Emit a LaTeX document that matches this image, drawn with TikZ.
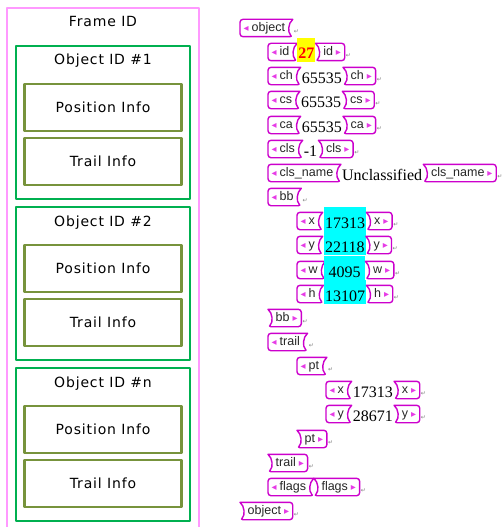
\documentclass[tikz,border=0pt]{standalone}
\usepackage{fontspec}
\setmainfont{Liberation Serif}
\newfontfamily\boxfont[LetterSpace=6]{DejaVu Sans}
\newfontfamily\tagfont{Liberation Sans}
\newfontfamily\symfont{DejaVu Sans}
\usepackage{xcolor}
\usetikzlibrary{positioning}
\definecolor{pinkline}{RGB}{255,153,255}
\definecolor{objgreen}{RGB}{0,176,80}
\definecolor{infoolive}{RGB}{119,147,60}
\definecolor{tagpink}{RGB}{204,0,204}
\definecolor{trifill}{RGB}{230,60,230}
\definecolor{hlyellow}{RGB}{255,255,0}
\definecolor{hlcyan}{RGB}{0,255,255}

% open tag: name, west point, label
\newcommand{\opentag}[3]{%
  \node[tagtext,anchor=west] (#1) at (#2) {{\symfont\fontsize{10}{10}\selectfont\color{trifill}◂}\hspace{3pt}#3};
  \draw[tagline] ([xshift=4pt]#1.north east) [rounded corners=3pt] -- (#1.north west) -- (#1.south west) -- ([xshift=4pt]#1.south east)
    [sharp corners] .. controls ([xshift=-1pt,yshift=4pt]#1.south east) and ([xshift=-1pt,yshift=-4pt]#1.north east) .. ([xshift=4pt]#1.north east);
}
% close tag: name, left point, label
\newcommand{\closetag}[3]{%
  \node[tagtext,anchor=west,xshift=4pt] (#1) at (#2) {#3\hspace{3pt}{\symfont\fontsize{10}{10}\selectfont\color{trifill}▸}};
  \draw[tagline] ([xshift=-4pt]#1.north west) [rounded corners=3pt] -- (#1.north east) -- (#1.south east) -- ([xshift=-4pt]#1.south west)
    [sharp corners] .. controls ([xshift=1pt,yshift=4pt]#1.south west) and ([xshift=1pt,yshift=-4pt]#1.north west) .. ([xshift=-4pt]#1.north west);
}

\begin{document}
\begin{tikzpicture}[x=1pt,y=-1pt,line cap=round,line join=round,
    framebox/.style={draw=pinkline,line width=2pt,minimum width=192pt,minimum height=540pt,anchor=north west,outer sep=0pt},
    objbox/.style={draw=objgreen,line width=2.5pt,minimum width=174pt,minimum height=153pt,outer sep=0pt},
    infobox/.style={draw=infoolive,line width=2.5pt,minimum width=157pt,minimum height=47pt,outer sep=0pt,font=\boxfont\fontsize{14}{14}\selectfont,text height=10pt,text depth=0pt},
    boxlabel/.style={font=\boxfont\fontsize{14}{14}\selectfont,inner sep=0pt,text height=10pt,text depth=0pt},
    tagtext/.style={font=\tagfont\fontsize{12.5}{12.5}\selectfont,text=black!85,inner xsep=3.5pt,inner ysep=0pt,minimum height=17pt,text height=9.5pt,text depth=2.5pt},
    tagline/.style={draw=tagpink,line width=1.4pt},
    valtext/.style={font=\fontsize{16}{16}\selectfont,inner xsep=1pt,inner ysep=3pt,text height=18pt,text depth=0pt,minimum height=24.5pt},
    retmark/.style={font=\symfont\fontsize{6}{6}\selectfont,text=gray,inner sep=0pt}]
  \tikzstyle{cellcyan}=[valtext,fill=hlcyan,minimum width=41pt,anchor=west]
  \useasboundingbox (0,0) rectangle (503,527);

  % left: frame layout
  \node[framebox] (frame) at (7,8) {};
  \node[boxlabel] (frameid) at ([yshift=-14pt]frame.north) {Frame ID};

  \node[objbox,below=38pt of frame.north] (obj1) {};
  \node[boxlabel] (obj1id) at ([yshift=-14pt]obj1.north) {Object ID \#1};
  \node[infobox,below=38pt of obj1.north] (pos1) {Position Info};
  \node[infobox,below=7pt of pos1] (trail1) {Trail Info};

  \node[objbox,below=8pt of obj1] (obj2) {};
  \node[boxlabel] (obj2id) at ([yshift=-14pt]obj2.north) {Object ID \#2};
  \node[infobox,below=38pt of obj2.north] (pos2) {Position Info};
  \node[infobox,below=7pt of pos2] (trail2) {Trail Info};

  \node[objbox,below=8pt of obj2] (objn) {};
  \node[boxlabel] (objnid) at ([yshift=-14pt]objn.north) {Object ID \#n};
  \node[infobox,below=38pt of objn.north] (posn) {Position Info};
  \node[infobox,below=7pt of posn] (trailn) {Trail Info};

  % right: xml tags
  \opentag{objO}{240,28}{object}
  \node[retmark,right=5pt of objO,yshift=-4pt] (ret0) {↵};

  \opentag{idO}{268,52}{id}
  \node[valtext,fill=hlyellow,text=red,font=\fontsize{16}{16}\selectfont\bfseries,right=4pt of idO,yshift=2pt] (idV) {27};
  \closetag{idC}{idV.east |- idO.east}{id}
  \node[retmark,right=1pt of idC,yshift=-4pt] (ret1) {↵};

  \opentag{chO}{268,76}{ch}
  \node[valtext,right=4pt of chO,yshift=2pt] (chV) {65535};
  \closetag{chC}{chV.east |- chO.east}{ch}
  \node[retmark,right=1pt of chC,yshift=-4pt] (ret2) {↵};

  \opentag{csO}{268,100}{cs}
  \node[valtext,right=4pt of csO,yshift=2pt] (csV) {65535};
  \closetag{csC}{csV.east |- csO.east}{cs}
  \node[retmark,right=1pt of csC,yshift=-4pt] (ret3) {↵};

  \opentag{caO}{268,125}{ca}
  \node[valtext,right=4pt of caO,yshift=2pt] (caV) {65535};
  \closetag{caC}{caV.east |- caO.east}{ca}
  \node[retmark,right=1pt of caC,yshift=-4pt] (ret4) {↵};

  \opentag{clsO}{268,149}{cls}
  \node[valtext,right=4pt of clsO,yshift=2pt] (clsV) {-1};
  \closetag{clsC}{clsV.east |- clsO.east}{cls}
  \node[retmark,right=1pt of clsC,yshift=-4pt] (ret5) {↵};

  \opentag{nameO}{268,173}{cls\_name}
  \node[valtext,right=4pt of nameO,yshift=2pt] (nameV) {Unclassified};
  \closetag{nameC}{nameV.east |- nameO.east}{cls\_name}
  \node[retmark,right=1pt of nameC,yshift=-4pt] (ret6) {↵};

  \opentag{bbO}{268,197}{bb}
  \node[retmark,right=5pt of bbO,yshift=-4pt] (ret7) {↵};

  \opentag{bxO}{297,221}{x}
  \node[cellcyan,yshift=2pt] (bxV) at (324,221) {17313};
  \closetag{bxC}{bxV.east |- bxO.east}{x}
  \node[retmark,right=1pt of bxC,yshift=-4pt] (ret8) {↵};

  \opentag{byO}{297,245}{y}
  \node[cellcyan,yshift=2pt] (byV) at (324,245) {22118};
  \closetag{byC}{byV.east |- byO.east}{y}
  \node[retmark,right=1pt of byC,yshift=-4pt] (ret9) {↵};

  \opentag{bwO}{297,270}{w}
  \node[cellcyan,yshift=2pt] (bwV) at (324,270) {4095};
  \closetag{bwC}{bwV.east |- bwO.east}{w}
  \node[retmark,right=1pt of bwC,yshift=-4pt] (ret10) {↵};

  \opentag{bhO}{297,294}{h}
  \node[cellcyan,yshift=2pt] (bhV) at (324,294) {13107};
  \closetag{bhC}{bhV.east |- bhO.east}{h}
  \node[retmark,right=1pt of bhC,yshift=-4pt] (ret11) {↵};

  \closetag{bbC}{268,318}{bb}
  \node[retmark,right=1pt of bbC,yshift=-4pt] (ret12) {↵};

  \opentag{trailO}{268,342}{trail}
  \node[retmark,right=5pt of trailO,yshift=-4pt] (ret13) {↵};

  \opentag{ptO}{297,366}{pt}
  \node[retmark,right=5pt of ptO,yshift=-4pt] (ret14) {↵};

  \opentag{pxO}{326,390}{x}
  \node[valtext,right=4pt of pxO,yshift=2pt] (pxV) {17313};
  \closetag{pxC}{pxV.east |- pxO.east}{x}
  \node[retmark,right=1pt of pxC,yshift=-4pt] (ret15) {↵};

  \opentag{pyO}{326,414}{y}
  \node[valtext,right=4pt of pyO,yshift=2pt] (pyV) {28671};
  \closetag{pyC}{pyV.east |- pyO.east}{y}
  \node[retmark,right=1pt of pyC,yshift=-4pt] (ret16) {↵};

  \closetag{ptC}{297,439}{pt}
  \node[retmark,right=1pt of ptC,yshift=-4pt] (ret17) {↵};

  \closetag{trailC}{268,463}{trail}
  \node[retmark,right=1pt of trailC,yshift=-4pt] (ret18) {↵};

  \opentag{flagsO}{268,487}{flags}
  \closetag{flagsC}{[xshift=4pt]flagsO.east}{flags}
  \node[retmark,right=1pt of flagsC,yshift=-4pt] (ret19) {↵};

  \closetag{objC}{240,511}{object}
  \node[retmark,right=1pt of objC,yshift=-4pt] (ret20) {↵};
\end{tikzpicture}
\end{document}
